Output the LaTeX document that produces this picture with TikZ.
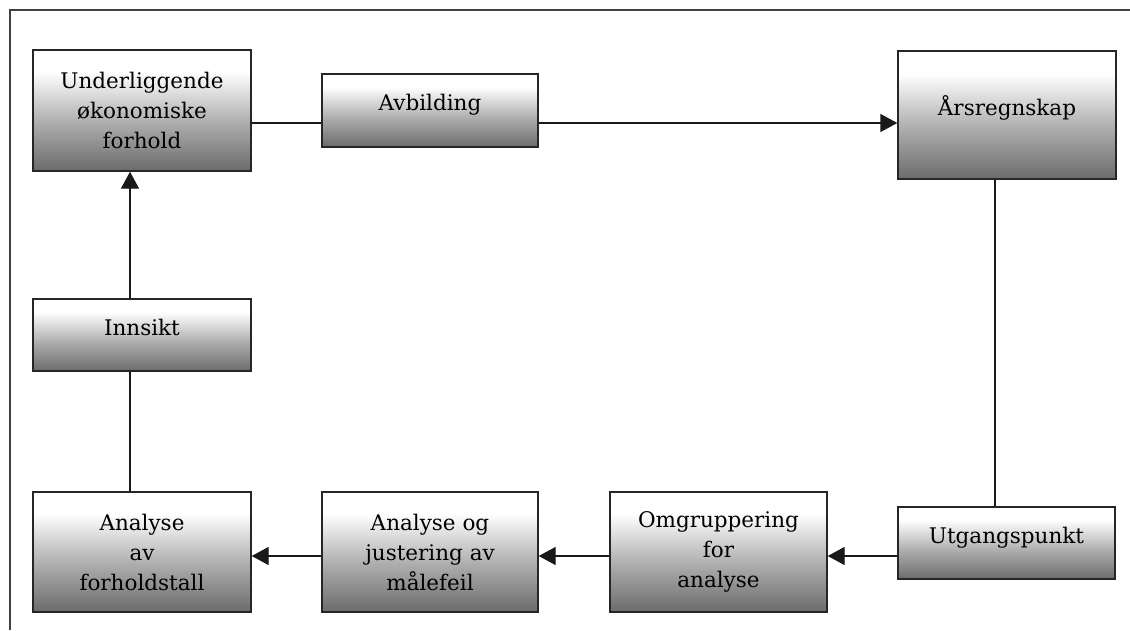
\documentclass[tikz,border=0pt]{standalone}
\usepackage{fontspec}
\setmainfont{DejaVu Serif}
\usetikzlibrary{arrows.meta}
\definecolor{shdark}{gray}{0.42}
\definecolor{shmid}{gray}{0.68}
\definecolor{framecol}{gray}{0.25}
\pgfdeclareverticalshading{boxshade}{100bp}{color(0bp)=(shdark); color(25bp)=(shdark); color(45bp)=(shmid); color(66bp)=(white); color(100bp)=(white)}
\begin{document}
\begin{tikzpicture}[x=1pt,y=-1pt,
  box/.style={draw=black!85, line width=1.4pt, shading=boxshade, rectangle,
    inner sep=2pt, align=center, font=\fontsize{21.5}{30}\selectfont},
  oneline/.style={text height=16pt, text depth=16pt},
  conn/.style={line width=1.4pt, draw=black!90},
  arr/.style={conn, -{Triangle[length=17pt, width=18pt]}},
  framel/.style={line width=1.6pt, draw=framecol}]
\useasboundingbox (0,0) rectangle (1130,630);
\fill[white] (0,0) rectangle (1130,630);
\draw[framel] (10,630) -- (10,10) -- (1130,10);

\node[box, minimum width=218pt, minimum height=121pt] (und) at (142,110.5) {Underliggende\\økonomiske\\forhold};
\node[box, oneline, minimum width=216pt, minimum height=73pt] (avb) at (430,110.5) {Avbilding};
\node[box, oneline, minimum width=218pt, minimum height=128pt] (ars) at (1007,115) {Årsregnskap};
\node[box, oneline, minimum width=218pt, minimum height=72pt] (inn) at (142,335) {Innsikt};
\node[box, minimum width=218pt, minimum height=120pt] (anf) at (142,552) {Analyse\\av\\forholdstall};
\node[box, minimum width=216pt, minimum height=120pt] (aoj) at (430,552) {Analyse og\\justering av\\målefeil};
\node[box, minimum width=217pt, minimum height=120pt] (omg) at (718.5,552) {Omgruppering\\for\\analyse};
\node[box, oneline, minimum width=217pt, minimum height=72pt] (utg) at (1006.5,543) {Utgangspunkt};

\coordinate (hl) at (0,123);
\coordinate (vr) at (995,0);
\coordinate (bl) at (0,556);
\coordinate (vl) at (130,0);

\draw[conn] (und.east |- hl) -- (avb.west |- hl);
\draw[arr] (avb.east |- hl) -- (ars.west |- hl);
\draw[conn] (ars.south -| vr) -- (utg.north -| vr);
\draw[arr] (utg.west |- bl) -- (omg.east |- bl);
\draw[arr] (omg.west |- bl) -- (aoj.east |- bl);
\draw[arr] (aoj.west |- bl) -- (anf.east |- bl);
\draw[conn] (anf.north -| vl) -- (inn.south -| vl);
\draw[arr] (inn.north -| vl) -- (und.south -| vl);
\end{tikzpicture}
\end{document}
